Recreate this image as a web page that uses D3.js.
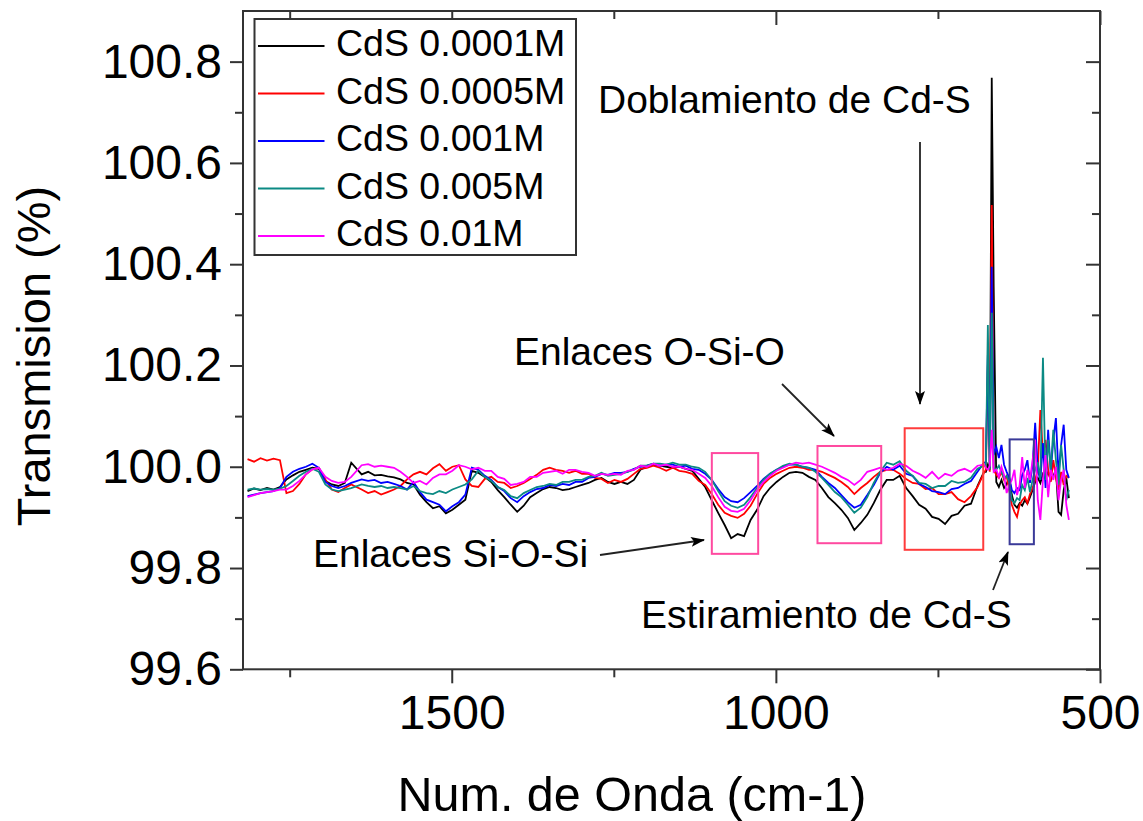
<!DOCTYPE html>
<html>
<head>
<meta charset="utf-8">
<title>FTIR CdS</title>
<script src="https://cdn.jsdelivr.net/npm/d3@7"></script>
<style>
  html, body { margin: 0; padding: 0; background: #fff; }
  svg { display: block; font-family: "Liberation Sans", Arial, sans-serif; }
</style>
</head>
<body>
<svg id="chart" width="1143" height="821"></svg>
<script>
// Wavenumber axis (cm-1) shared by all spectra
const wavenumber = [
  1815,1805,1795,1785,1775,1765,1755,1745,1735,1725,1715,1705,1695,1685,1675,1665,1655,
  1639,1629,1619,1609,1599,1589,1579,1569,
  1559,1549,1539,1529,1519,1509,1499,1489,1479,1469,
  1459,1449,1439,1429,1419,1409,1399,1389,1379,1369,1359,1349,1339,1329,1319,1309,1299,1289,1279,1269,1259,1249,1239,1229,1219,1209,1199,1189,1179,1169,1159,1149,1139,1129,
  1119,1109,1099,1089,1079,1069,1059,1049,1039,1029,1019,1009,999,989,979,
  969,959,949,939,929,919,909,899,889,879,869,859,849,839,829,
  819,809,799,789,779,769,759,749,739,729,719,709,699,689,679,
  676,673,670,667,664,660,656,652,648,644,640,636,632,628,624,620,616,612,608,604,600,596,592,588,584,580,576,572,568,564,560,556,552,548
];

// Transmission (%) for each CdS concentration
const cds00001 = [
  99.952,99.957,99.954,99.958,99.955,99.960,
  99.975,99.983,99.990,99.994,99.998,99.996,
  99.972,99.965,99.962,99.968,100.008,
  99.985,99.990,99.983,99.984,99.981,99.979,99.975,99.968,
  99.965,99.945,99.930,99.918,99.922,99.908,99.915,99.925,99.935,99.992,
  99.988,99.980,99.970,99.954,99.940,99.925,99.911,99.923,99.940,99.948,99.956,99.960,99.958,99.954,99.956,99.960,99.964,99.968,99.974,99.978,99.970,99.966,99.970,99.966,99.974,99.994,100.000,100.004,100.002,100.000,99.998,100.000,99.996,99.992,
  99.976,99.960,99.934,99.909,99.885,99.859,99.867,99.863,99.895,99.915,99.942,99.958,99.970,99.980,99.988,
  99.990,99.988,99.980,99.974,99.958,99.940,99.928,99.915,99.899,99.875,99.889,99.905,99.928,99.954,99.974,
  99.974,99.982,99.958,99.942,99.925,99.917,99.901,99.897,99.887,99.903,99.907,99.923,99.927,99.962,99.990,
  99.990,100.004,99.994,100.768,100.355,99.970,99.960,99.974,99.958,99.966,99.978,99.944,99.925,99.919,99.928,99.923,99.934,99.927,99.940,99.954,99.970,99.978,99.968,99.986,99.978,99.990,99.974,99.982,99.994,99.911,99.905,99.954,99.978,99.938
];
const cds00005 = [
  100.015,100.010,100.017,100.012,100.016,100.013,
  99.948,99.952,99.966,99.985,99.995,99.998,
  99.975,99.955,99.950,99.958,99.965,
  99.955,99.948,99.952,99.945,99.950,99.955,99.962,99.975,
  99.985,99.990,99.985,99.997,100.005,99.992,100.000,100.003,99.975,99.962,
  99.960,99.976,99.980,99.970,99.968,99.958,99.962,99.968,99.976,99.984,99.994,99.998,99.994,99.992,99.988,99.992,99.986,99.986,99.978,99.976,99.968,99.974,99.970,99.976,99.986,99.996,99.998,100.002,99.998,99.992,99.998,99.992,99.990,99.986,
  99.972,99.964,99.946,99.925,99.909,99.903,99.899,99.907,99.923,99.946,99.966,99.978,99.986,99.992,99.998,
  100.000,99.998,99.994,99.994,99.990,99.984,99.978,99.970,99.960,99.946,99.958,99.968,99.980,99.990,99.994,
  99.994,99.986,99.976,99.968,99.966,99.956,99.958,99.946,99.946,99.950,99.936,99.930,99.942,99.960,99.988,
  99.994,100.201,99.990,100.517,99.994,99.984,99.978,99.990,99.974,99.982,99.954,99.925,99.911,99.901,99.925,99.934,99.940,99.928,99.946,99.958,99.974,99.994,100.112,100.023,100.053,99.994,99.970,100.013,99.978,99.954,99.990,99.964,99.982,99.978
];
const cds0001 = [
  99.942,99.945,99.948,99.950,99.952,99.958,
  99.980,99.990,99.996,100.000,100.006,99.998,
  99.970,99.962,99.958,99.962,99.968,
  99.975,99.972,99.974,99.968,99.970,99.966,99.962,99.955,
  99.970,99.950,99.935,99.930,99.925,99.912,99.922,99.930,99.945,99.998,
  99.994,99.982,99.974,99.960,99.952,99.938,99.930,99.942,99.950,99.956,99.958,99.964,99.962,99.966,99.964,99.970,99.970,99.978,99.980,99.986,99.984,99.988,99.988,99.990,99.996,100.000,100.002,100.006,100.002,100.004,100.004,100.000,100.002,99.996,
  99.994,99.986,99.974,99.956,99.940,99.932,99.930,99.938,99.950,99.962,99.976,99.986,99.994,100.000,100.004,
  100.004,100.000,99.998,99.994,99.980,99.968,99.958,99.944,99.930,99.919,99.925,99.944,99.964,99.988,100.000,
  99.994,100.002,99.986,99.982,99.966,99.960,99.952,99.950,99.946,99.956,99.958,99.966,99.972,99.990,100.008,
  100.009,100.221,99.998,100.395,100.023,100.039,100.017,100.043,100.004,99.990,99.978,99.954,99.948,99.958,99.954,99.984,99.994,100.013,99.968,100.004,100.087,99.994,99.974,100.047,99.958,100.073,99.990,100.053,100.096,99.984,100.043,100.083,99.994,99.978
];
const cds0005 = [
  99.955,99.957,99.955,99.956,99.955,99.957,
  99.962,99.972,99.982,99.990,99.996,99.990,
  99.965,99.955,99.952,99.955,99.958,
  99.965,99.962,99.960,99.962,99.958,99.960,99.958,99.955,
  99.962,99.952,99.948,99.946,99.952,99.948,99.955,99.960,99.965,99.975,
  99.992,99.980,99.972,99.960,99.954,99.942,99.938,99.948,99.954,99.960,99.962,99.966,99.964,99.970,99.970,99.974,99.974,99.980,99.982,99.988,99.982,99.984,99.986,99.990,99.994,100.002,100.002,100.006,100.006,100.004,100.008,100.004,100.004,100.000,
  99.998,99.990,99.974,99.952,99.932,99.923,99.919,99.925,99.940,99.958,99.974,99.986,99.994,100.002,100.006,
  100.004,100.000,99.998,99.990,99.978,99.964,99.950,99.940,99.925,99.909,99.919,99.940,99.968,99.990,100.008,
  100.004,100.011,99.992,99.982,99.968,99.966,99.958,99.962,99.962,99.972,99.968,99.970,99.978,99.996,100.002,
  100.002,100.280,99.994,100.304,99.998,99.994,100.002,99.990,99.978,99.982,99.970,99.934,99.928,99.938,99.934,99.964,99.954,99.978,99.950,99.974,99.994,100.009,99.974,100.215,99.974,100.053,99.994,100.073,100.013,99.964,100.043,99.994,99.934,99.954
];
const cds001 = [
  99.940,99.944,99.948,99.950,99.952,99.955,
  99.955,99.962,99.972,99.985,99.995,99.998,
  99.980,99.972,99.968,99.970,99.980,
  100.003,100.005,100.000,100.002,100.000,99.998,99.990,99.980,
  99.968,99.972,99.965,99.978,99.985,99.985,99.992,100.003,100.000,99.995,
  99.998,99.992,99.992,99.980,99.976,99.964,99.966,99.970,99.980,99.980,99.988,99.990,99.992,99.986,99.994,99.994,99.990,99.988,99.982,99.986,99.984,99.986,99.984,99.992,99.994,100.002,100.000,100.006,100.002,100.004,100.000,100.000,99.996,99.994,
  99.986,99.978,99.962,99.940,99.921,99.913,99.911,99.917,99.934,99.954,99.970,99.982,99.992,99.998,100.004,
  100.008,100.006,100.008,100.004,100.000,99.994,99.988,99.980,99.974,99.964,99.974,99.990,99.994,99.998,99.994,
  99.998,100.006,100.002,99.992,99.986,99.978,99.990,99.976,99.986,99.982,99.992,99.996,99.990,100.002,100.004,
  99.998,99.994,100.002,100.073,99.990,99.994,99.980,100.000,99.984,99.948,99.964,99.974,99.994,99.944,99.964,100.019,99.958,99.994,99.974,100.013,100.053,99.934,99.895,99.974,100.023,99.940,99.994,99.974,100.000,99.934,99.974,99.994,99.925,99.895
];

const seriesLabels = ["CdS 0.0001M", "CdS 0.0005M", "CdS 0.001M", "CdS 0.005M", "CdS 0.01M"];
const seriesValues = [cds00001, cds00005, cds0001, cds0005, cds001];
const seriesColors = ["#000000", "#ff0000", "#0000ff", "#0b8a84", "#ff00ff"];

// Axis ticks
const xMajorTicks = [1500, 1000, 500];
const xMinorTicks = [1750, 1250, 750];
const yMajorTicks = [99.6, 99.8, 100.0, 100.2, 100.4, 100.6, 100.8];
const yMinorTicks = [99.7, 99.9, 100.1, 100.3, 100.5, 100.7];

// Highlighted absorption bands: [wavenumber from, wavenumber to, transmission low, transmission high]
const bandBoxes = [
  [1098.8, 1027.3, 99.828, 100.027],
  [935.8, 837.5, 99.849, 100.041],
  [801.3, 680.1, 99.836, 100.076],
  [639.4, 602.0, 99.847, 100.054]
];
const bandColors = ["#ff4aa0", "#ff4aa0", "#ff3c3c", "#3a3a98"];

const svg = d3.select("#chart");
const W = 1143, H = 821;
const plot = { left: 243, right: 1100, top: 11, bottom: 669.3 };

const x = d3.scaleLinear().domain([1822, 500]).range([plot.left, plot.right]);
const y = d3.scaleLinear().domain([99.6, 100.9]).range([plot.bottom, plot.top]);

svg.append("rect").attr("width", W).attr("height", H).attr("fill", "#fff");

svg.append("defs").append("clipPath").attr("id", "plotClip")
  .append("rect")
  .attr("x", plot.left).attr("y", plot.top)
  .attr("width", plot.right - plot.left).attr("height", plot.bottom - plot.top);

// Spectra
const line = d3.line().x(d => x(d[0])).y(d => y(d[1]));
const curves = svg.append("g").attr("clip-path", "url(#plotClip)");
seriesValues.forEach((vals, i) => {
  const pts = wavenumber.map((w, k) => [w, vals[k]]).filter(p => p[1] !== undefined);
  curves.append("path")
    .datum(pts)
    .attr("d", line)
    .attr("fill", "none")
    .attr("stroke", seriesColors[i])
    .attr("stroke-width", 1.8)
    .attr("stroke-linejoin", "miter");
});

// Band boxes
svg.append("g").selectAll("rect")
  .data(bandBoxes)
  .join("rect")
  .attr("x", d => x(d[0]))
  .attr("y", d => y(d[3]))
  .attr("width", d => x(d[1]) - x(d[0]))
  .attr("height", d => y(d[2]) - y(d[3]))
  .attr("fill", "none")
  .attr("stroke", (d, i) => bandColors[i])
  .attr("stroke-width", 2);

// Axes
const axisColor = "#333";
function styleAxis(g, showText) {
  g.select(".domain").remove();
  g.selectAll(".tick line").attr("stroke", axisColor).attr("stroke-width", 2);
  g.selectAll(".tick text")
    .attr("fill", "#000")
    .attr("font-size", 48)
    .attr("font-family", '"Liberation Sans", Arial, sans-serif');
  if (!showText) g.selectAll(".tick text").remove();
}

svg.append("g").attr("transform", `translate(0,${plot.bottom})`)
  .call(d3.axisBottom(x).tickValues(xMajorTicks).tickSize(14).tickPadding(12).tickFormat(d3.format("d")))
  .call(g => styleAxis(g, true));
svg.append("g").attr("transform", `translate(0,${plot.bottom})`)
  .call(d3.axisBottom(x).tickValues(xMinorTicks).tickSize(8).tickFormat(""))
  .call(g => styleAxis(g, false));
svg.append("g").attr("transform", `translate(0,${plot.top})`)
  .call(d3.axisTop(x).tickValues(xMajorTicks).tickSize(-14).tickFormat(""))
  .call(g => styleAxis(g, false));
svg.append("g").attr("transform", `translate(0,${plot.top})`)
  .call(d3.axisTop(x).tickValues(xMinorTicks).tickSize(-8).tickFormat(""))
  .call(g => styleAxis(g, false));

svg.append("g").attr("transform", `translate(${plot.left},0)`)
  .call(d3.axisLeft(y).tickValues(yMajorTicks).tickSize(13).tickPadding(8).tickFormat(d3.format(".1f")))
  .call(g => styleAxis(g, true));
svg.append("g").attr("transform", `translate(${plot.left},0)`)
  .call(d3.axisLeft(y).tickValues(yMinorTicks).tickSize(8).tickFormat(""))
  .call(g => styleAxis(g, false));
svg.append("g").attr("transform", `translate(${plot.right},0)`)
  .call(d3.axisRight(y).tickValues(yMajorTicks).tickSize(-14).tickFormat(""))
  .call(g => styleAxis(g, false));
svg.append("g").attr("transform", `translate(${plot.right},0)`)
  .call(d3.axisRight(y).tickValues(yMinorTicks).tickSize(-8).tickFormat(""))
  .call(g => styleAxis(g, false));

// Plot frame
svg.append("rect")
  .attr("x", plot.left).attr("y", plot.top)
  .attr("width", plot.right - plot.left).attr("height", plot.bottom - plot.top)
  .attr("fill", "none").attr("stroke", axisColor).attr("stroke-width", 2);

// Axis titles
svg.append("text")
  .attr("transform", "translate(50,356) rotate(-90)")
  .attr("text-anchor", "middle")
  .attr("font-size", 47)
  .attr("fill", "#000")
  .text("Transmision (%)");
svg.append("text")
  .attr("x", 632).attr("y", 811)
  .attr("text-anchor", "middle")
  .attr("font-size", 48.5)
  .attr("fill", "#000")
  .text("Num. de Onda (cm-1)");

// Legend
const legend = svg.append("g");
legend.append("rect")
  .attr("x", 254.5).attr("y", 19).attr("width", 321.5).attr("height", 236)
  .attr("fill", "#fff").attr("stroke", axisColor).attr("stroke-width", 2);
seriesLabels.forEach((label, i) => {
  const ry = 46 + i * 47.5;
  legend.append("line")
    .attr("x1", 258).attr("x2", 324.5).attr("y1", ry).attr("y2", ry)
    .attr("stroke", seriesColors[i]).attr("stroke-width", 1.8);
  legend.append("text")
    .attr("x", 336).attr("y", ry + 10)
    .attr("font-size", 37.5).attr("fill", "#000")
    .text(label);
});

// Annotations
const defs = svg.select("defs");
defs.append("marker")
  .attr("id", "arrowHead")
  .attr("viewBox", "0 0 14 10")
  .attr("refX", 13).attr("refY", 5)
  .attr("markerWidth", 14).attr("markerHeight", 10)
  .attr("markerUnits", "userSpaceOnUse")
  .attr("orient", "auto")
  .append("path")
  .attr("d", "M0,0 L14,5 L0,10 L3,5 Z")
  .attr("fill", "#000");

const notes = [
  { text: "Doblamiento de Cd-S", tx: 598, ty: 113, from: [920, 142], to: [920, 404] },
  { text: "Enlaces O-Si-O", tx: 514, ty: 365, from: [782, 384], to: [834, 436] },
  { text: "Enlaces Si-O-Si", tx: 313, ty: 567, from: [600, 555], to: [704, 540] },
  { text: "Estiramiento de Cd-S", tx: 641, ty: 628, from: [993, 590], to: [1008, 552] }
];
const noteG = svg.append("g");
notes.forEach(n => {
  noteG.append("text")
    .attr("x", n.tx).attr("y", n.ty)
    .attr("font-size", 39).attr("fill", "#000")
    .text(n.text);
  noteG.append("line")
    .attr("x1", n.from[0]).attr("y1", n.from[1])
    .attr("x2", n.to[0]).attr("y2", n.to[1])
    .attr("stroke", "#222").attr("stroke-width", 1.8)
    .attr("marker-end", "url(#arrowHead)");
});
</script>
</body>
</html>
